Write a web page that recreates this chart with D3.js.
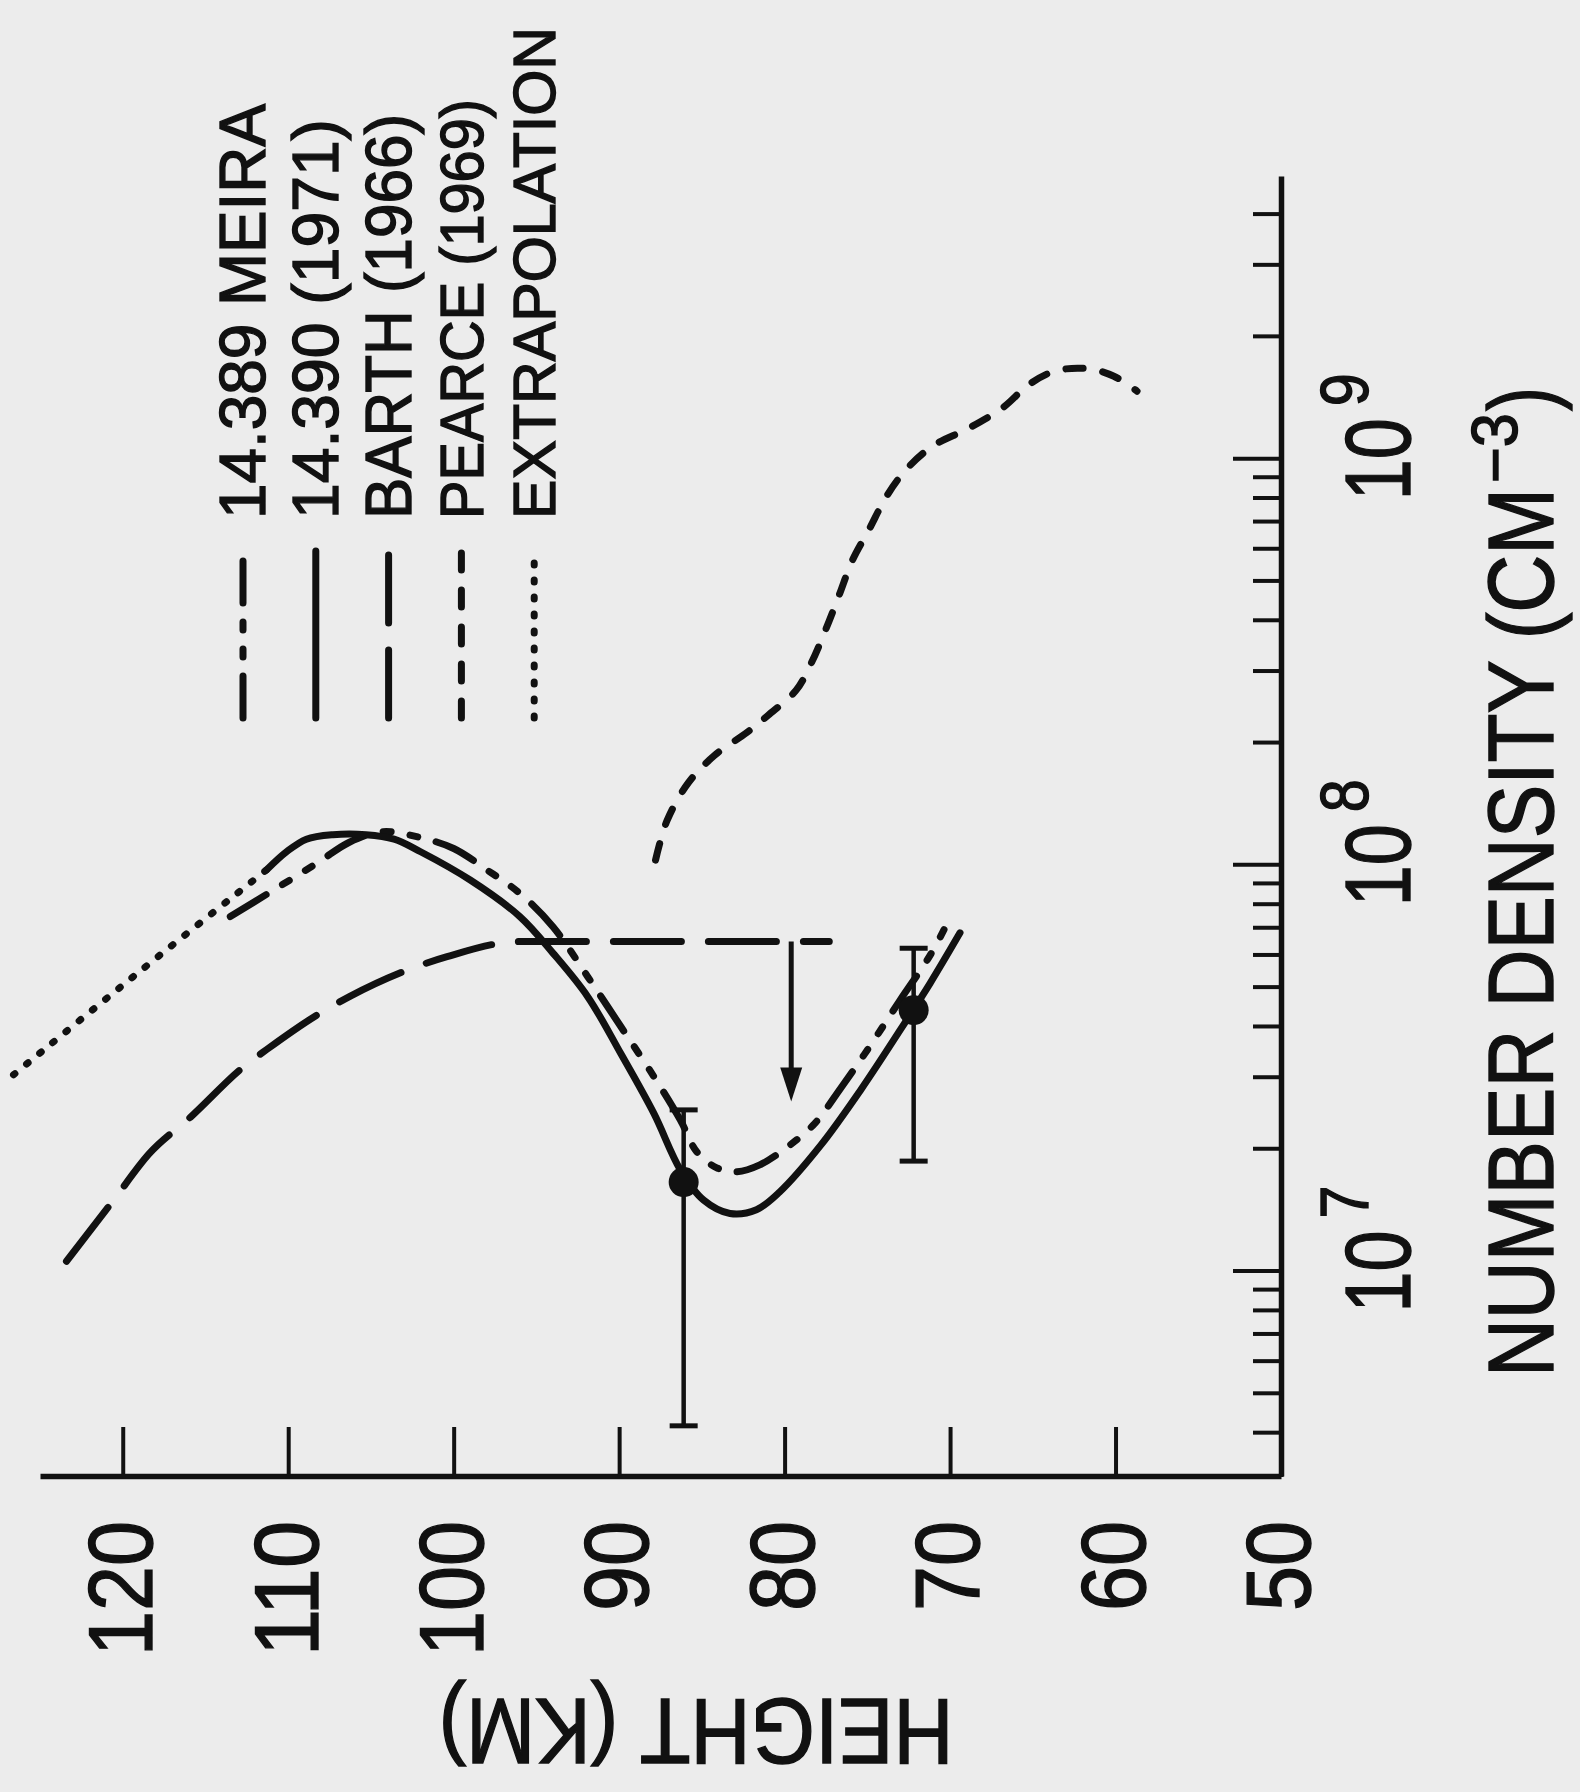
<!DOCTYPE html>
<html>
<head>
<meta charset="utf-8">
<script src="https://cdn.jsdelivr.net/npm/d3@7/dist/d3.min.js"></script>
<style>
  body { margin: 0; background: #ececec; }
  svg { display: block; }
  text { font-family: "Liberation Sans", Arial, sans-serif; fill: #111; stroke: #111; stroke-width: 1.4px; }
</style>
</head>
<body>
<div id="chart"></div>
<script>
// Heights in km, number densities in cm^-3

// 14.389 MEIRA (long-short-short dash)
const meiraHeight  = [113.5, 108.3, 106.3, 104.3, 102.0, 100.0, 98.0, 96.0, 94.0, 91.9, 89.9, 87.9, 86.3, 85.3, 84.1, 82.9, 81.5, 79.8, 78.2, 76.6, 74.8, 73.0, 71.2, 70.0];
const meiraDensity = [7.48e7, 1.01e8, 1.14e8, 1.21e8, 1.17e8, 1.10e8, 9.75e7, 8.53e7, 7.06e7, 5.32e7, 4.01e7, 3.02e7, 2.36e7, 1.97e7, 1.80e7, 1.76e7, 1.83e7, 2.03e7, 2.31e7, 2.83e7, 3.61e7, 4.67e7, 6.01e7, 7.43e7];

// 14.390 (1971) (solid)
const solidHeight  = [111.3, 110.1, 108.9, 107.3, 105.3, 103.6, 102.0, 99.0, 96.0, 94.0, 91.9, 89.9, 87.9, 86.3, 84.9, 83.3, 81.7, 80.3, 77.8, 75.4, 73.0, 71.2, 69.4];
const solidDensity = [9.75e7, 1.08e8, 1.16e8, 1.19e8, 1.19e8, 1.16e8, 1.08e8, 9.2e7, 7.48e7, 6.08e7, 4.75e7, 3.44e7, 2.45e7, 1.78e7, 1.50e7, 1.39e7, 1.42e7, 1.57e7, 2.05e7, 2.80e7, 3.94e7, 5.13e7, 6.82e7];

// BARTH (1966) (long dash), flat part is an upper limit
const barthHeight  = [123.4, 120.6, 118.4, 115.9, 112.7, 111.3, 107.9, 106.3, 102.2, 100.4, 96.0, 77.3];
const barthDensity = [1.06e7, 1.49e7, 1.95e7, 2.40e7, 3.19e7, 3.52e7, 4.37e7, 4.75e7, 5.64e7, 5.96e7, 6.49e7, 6.49e7];

// PEARCE (1969) (short dash)
const pearceHeight  = [87.8, 87.1, 85.8, 84.2, 82.3, 81.0, 79.3, 78.4, 77.5, 76.7, 75.9, 74.9, 73.8, 72.6, 71.0, 68.9, 66.8, 65.2, 63.6, 61.7, 60.1, 58.7];
const pearceDensity = [1.03e8, 1.29e8, 1.60e8, 1.87e8, 2.12e8, 2.34e8, 2.70e8, 3.14e8, 3.82e8, 4.63e8, 5.64e8, 6.71e8, 8.15e8, 9.48e8, 1.08e9, 1.19e9, 1.34e9, 1.53e9, 1.65e9, 1.67e9, 1.60e9, 1.47e9];

// EXTRAPOLATION (dotted)
const extrapHeight  = [126.6, 119.0, 111.3];
const extrapDensity = [3.05e7, 5.47e7, 9.75e7];

// measured points with error bars
const obsHeight  = [86.1, 72.2];
const obsDensity = [1.66e7, 4.4e7];
const obsLow     = [4.17e6, 1.87e7];
const obsHigh    = [2.5e7, 6.25e7];

// Barth upper-limit arrow
const limitHeight = 79.6;
const limitFrom = 6.49e7;
const limitTo = 2.62e7;

// axes
const heightTicks = [50, 60, 70, 80, 90, 100, 110, 120];
const densityMajor = [1e7, 1e8, 1e9];
const densityExponents = ["7", "8", "9"];

const legendLabels = ["14.389 MEIRA", "14.390 (1971)", "BARTH (1966)", "PEARCE (1969)", "EXTRAPOLATION"];

// ---------------------------------------------------------------

const W = 1580, H = 1792;
const ink = "#111";

const svg = d3.select("#chart").append("svg")
  .attr("width", W)
  .attr("height", H);

svg.append("rect").attr("width", W).attr("height", H).attr("fill", "#ececec");

// The figure is printed turned a quarter turn counter-clockwise,
// so draw it normally and rotate the whole group
const g = svg.append("g")
  .attr("transform", "translate(0,1477) rotate(-90)");

const x = d3.scaleLog().domain([3.12e6, 4.95e9]).range([0, 1300]);   // density
const y = d3.scaleLinear().domain([50, 125]).range([1281, 40]);      // height

// height axis
const yAxis = g.append("g")
  .call(d3.axisLeft(y)
    .tickValues(heightTicks)
    .tickSize(-50)
    .tickSizeOuter(0)
    .tickPadding(44)
    .tickFormat(d3.format("d")));
yAxis.select(".domain").attr("stroke", ink).attr("stroke-width", 5.5);
yAxis.selectAll(".tick line").attr("stroke", ink).attr("stroke-width", 4);
yAxis.selectAll(".tick text")
  .attr("fill", ink)
  .style("font-size", "90px")
  .attr("textLength", d => String(d).length * 45)
  .attr("lengthAdjust", "spacingAndGlyphs");

// density axis: minor then major ticks
const minorTicks = x.ticks().filter(d => Math.abs(Math.log10(d) - Math.round(Math.log10(d))) > 1e-6);

const xMinor = g.append("g")
  .attr("transform", `translate(0,${y(50)})`)
  .call(d3.axisBottom(x).tickValues(minorTicks).tickSize(-28).tickSizeOuter(0).tickFormat(""));
xMinor.select(".domain").attr("stroke", ink).attr("stroke-width", 5.5);
xMinor.selectAll(".tick line").attr("stroke", ink).attr("stroke-width", 4);

const xMajor = g.append("g")
  .attr("transform", `translate(0,${y(50)})`)
  .call(d3.axisBottom(x).tickValues(densityMajor).tickSize(-48).tickSizeOuter(0).tickFormat(""));
xMajor.select(".domain").remove();
xMajor.selectAll(".tick line").attr("stroke", ink).attr("stroke-width", 4);

// 10^n labels
densityMajor.forEach((d, i) => {
  g.append("text")
    .attr("x", x(d))
    .attr("y", y(50) + 129)
    .attr("text-anchor", "middle")
    .style("font-size", "92px")
    .attr("textLength", 82)
    .attr("lengthAdjust", "spacingAndGlyphs")
    .text("10");
  g.append("text")
    .attr("x", x(d) + 53)
    .attr("y", y(50) + 87)
    .style("font-size", "68px")
    .attr("textLength", 33)
    .attr("lengthAdjust", "spacingAndGlyphs")
    .text(densityExponents[i]);
});

// axis titles
g.append("text")
  .attr("x", 100)
  .attr("y", 1553)
  .style("font-size", "92px")
  .attr("textLength", 889)
  .attr("lengthAdjust", "spacingAndGlyphs")
  .text("NUMBER DENSITY (CM");
g.append("text")
  .attr("x", 994)
  .attr("y", 1517)
  .style("font-size", "64px")
  .attr("textLength", 70)
  .attr("lengthAdjust", "spacingAndGlyphs")
  .text("\u22123");
g.append("text")
  .attr("x", 1066)
  .attr("y", 1553)
  .style("font-size", "92px")
  .attr("textLength", 24)
  .attr("lengthAdjust", "spacingAndGlyphs")
  .text(")");

g.append("text")
  .attr("transform", "translate(-222,696) rotate(-90)")
  .attr("text-anchor", "middle")
  .style("font-size", "92px")
  .attr("textLength", 515)
  .attr("lengthAdjust", "spacingAndGlyphs")
  .text("HEIGHT (KM)");

// curves
const smooth = d3.line()
  .x(d => x(d[1]))
  .y(d => y(d[0]))
  .curve(d3.curveCatmullRom.alpha(0.5));

const flatEnd = d3.line()
  .x(d => x(d[1]))
  .y(d => y(d[0]))
  .curve(d3.curveMonotoneY);

const series = [
  { h: meiraHeight,  n: meiraDensity,  dash: "42,19,8,19,8,19", line: smooth },
  { h: solidHeight,  n: solidDensity,  dash: null,              line: smooth },
  { h: barthHeight,  n: barthDensity,  dash: "68,27",           line: flatEnd },
  { h: pearceHeight, n: pearceDensity, dash: "17,20",           line: smooth },
  { h: extrapHeight, n: extrapDensity, dash: "2,15",            line: smooth }
];

series.forEach(s => {
  g.append("path")
    .datum(d3.zip(s.h, s.n))
    .attr("fill", "none")
    .attr("stroke", ink)
    .attr("stroke-width", 7)
    .attr("stroke-linecap", "round")
    .attr("stroke-linejoin", "round")
    .attr("stroke-dasharray", s.dash)
    .attr("d", s.line);
});

// Barth upper limit arrow
const ay = y(limitHeight);
g.append("line")
  .attr("x1", x(limitFrom)).attr("x2", x(limitTo) + 30)
  .attr("y1", ay).attr("y2", ay)
  .attr("stroke", ink).attr("stroke-width", 5);
g.append("path")
  .attr("d", `M${x(limitTo)},${ay}L${x(limitTo) + 34},${ay - 11}L${x(limitTo) + 34},${ay + 11}Z`)
  .attr("fill", ink);

// error bars and points
obsHeight.forEach((h, i) => {
  const py = y(h);
  g.append("line")
    .attr("x1", x(obsLow[i])).attr("x2", x(obsHigh[i]))
    .attr("y1", py).attr("y2", py)
    .attr("stroke", ink).attr("stroke-width", 4.5);
  [obsLow[i], obsHigh[i]].forEach(v => {
    g.append("line")
      .attr("x1", x(v)).attr("x2", x(v))
      .attr("y1", py - 14).attr("y2", py + 14)
      .attr("stroke", ink).attr("stroke-width", 5);
  });
  g.append("circle")
    .attr("cx", x(obsDensity[i]))
    .attr("cy", py)
    .attr("r", 15)
    .attr("fill", ink);
});

// legend
const legendTextLength = [415, 400, 405, 420, 492];
const legendFontSize = [64, 64, 64, 62, 59];
const legend = g.append("g");
legendLabels.forEach((label, i) => {
  const ly = 243 + i * 72.8;
  legend.append("line")
    .attr("x1", 759).attr("x2", 926)
    .attr("y1", ly).attr("y2", ly)
    .attr("stroke", ink)
    .attr("stroke-width", 7)
    .attr("stroke-linecap", "round")
    .attr("stroke-dasharray", series[i].dash);
  legend.append("text")
    .attr("x", 958)
    .attr("y", ly)
    .attr("dy", "0.35em")
    .style("font-size", legendFontSize[i] + "px")
    .attr("textLength", legendTextLength[i])
    .attr("lengthAdjust", "spacingAndGlyphs")
    .text(label);
});
</script>
</body>
</html>
